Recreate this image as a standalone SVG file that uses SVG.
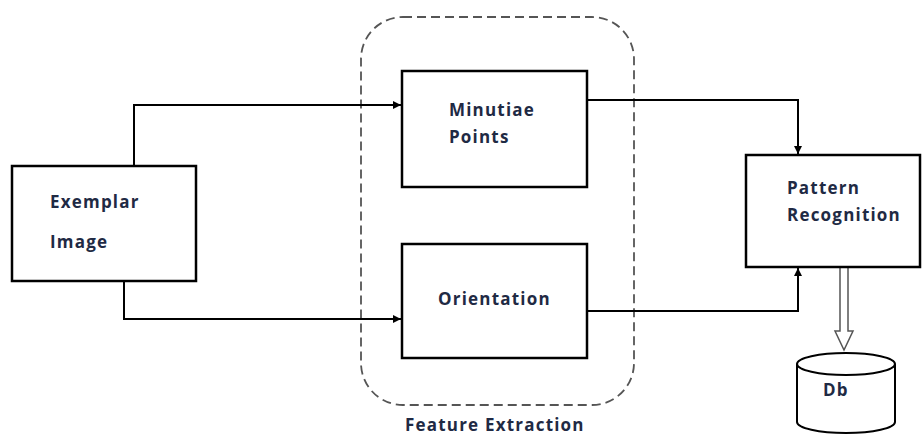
<svg xmlns="http://www.w3.org/2000/svg" width="922" height="436" viewBox="0 0 922 436">
<defs>
<style>
.box{fill:#fff;stroke:#000;stroke-width:2.5}
.t{font-family:"Open Sans","Liberation Sans",sans-serif;font-weight:bold;font-size:17px;letter-spacing:1.2px;fill:#1f2a44}
.c{fill:none;stroke:#000;stroke-width:2}
</style>
<marker id="ah" viewBox="0 0 10 10" refX="10" refY="5" markerWidth="10" markerHeight="8" markerUnits="userSpaceOnUse" orient="auto">
<path d="M0,0 L10,5 L0,10 z" fill="#000"/>
</marker>
</defs>
<rect width="922" height="436" fill="#fff"/>
<g id="feature-extraction">
<rect x="361" y="17" width="273" height="388" rx="42" ry="42" fill="none" stroke="#555" stroke-width="1.8" stroke-dasharray="9,5"/>
<text class="t" x="405" y="431">Feature Extraction</text>
</g>
<g id="connectors">
<path class="c" d="M134,166 V105 H401" marker-end="url(#ah)"/>
<path class="c" d="M124,281 V319 H401" marker-end="url(#ah)"/>
<path class="c" d="M587,100 H798 V154" marker-end="url(#ah)"/>
<path class="c" d="M587,311 H798 V268" marker-end="url(#ah)"/>
<path d="M840,268 V331 H835 L844,350 L853,331 H848 V268" fill="#fff" stroke="#555" stroke-width="1.5"/>
</g>
<g id="exemplar">
<rect class="box" x="12" y="166" width="184" height="115"/>
<text class="t" x="50" y="208">Exemplar</text>
<text class="t" x="50" y="248">Image</text>
</g>
<g id="minutiae">
<rect class="box" x="402" y="71" width="185" height="116"/>
<text class="t" x="449" y="116">Minutiae</text>
<text class="t" x="449" y="143">Points</text>
</g>
<g id="orientation">
<rect class="box" x="402" y="244" width="185" height="114"/>
<text class="t" x="438" y="305">Orientation</text>
</g>
<g id="pattern">
<rect class="box" x="746" y="155" width="174" height="112"/>
<text class="t" x="787" y="194">Pattern</text>
<text class="t" x="787" y="221">Recognition</text>
</g>
<g id="db">
<path d="M797,364 V422 A49,11 0 0 0 895,422 V364" fill="#fff" stroke="#000" stroke-width="2"/>
<ellipse cx="846" cy="364" rx="49" ry="11" fill="#fff" stroke="#000" stroke-width="2"/>
<text class="t" x="823" y="396">Db</text>
</g>
</svg>
